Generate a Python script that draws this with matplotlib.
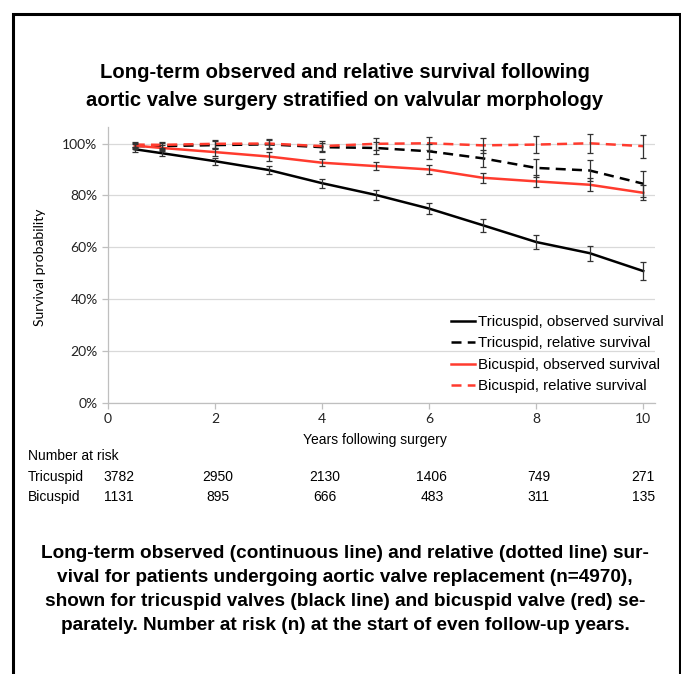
import numpy as np
import matplotlib
matplotlib.use("Agg")
import matplotlib.pyplot as plt
from matplotlib.patches import Rectangle
from matplotlib.ticker import PercentFormatter

# follow-up years and survival (%)
years = [0.5, 1, 2, 3, 4, 5, 6, 7, 8, 9, 10]
tri_obs = [97.8, 96.3, 93.2, 89.8, 84.7, 80.2, 74.9, 68.5, 62.0, 57.7, 50.8]
tri_obs_err = [1.0, 1.1, 1.3, 1.5, 1.7, 2.0, 2.2, 2.5, 2.6, 2.9, 3.6]
tri_rel = [99.0, 99.0, 99.4, 99.7, 98.6, 98.3, 97.0, 94.3, 90.6, 89.6, 84.5]
tri_rel_err = [1.0, 1.2, 1.5, 1.7, 1.8, 2.3, 2.8, 3.3, 3.6, 4.2, 5.0]
bi_obs = [99.2, 98.3, 96.7, 95.0, 92.6, 91.3, 90.0, 86.8, 85.4, 84.1, 81.0]
bi_obs_err = [1.0, 1.2, 1.4, 1.6, 1.4, 1.6, 1.8, 2.0, 2.3, 2.6, 2.9]
bi_rel = [99.6, 99.5, 99.9, 100.0, 99.0, 99.9, 100.1, 99.3, 99.6, 100.1, 99.0]
bi_rel_err = [1.0, 1.2, 1.5, 1.7, 2.0, 2.2, 2.6, 3.0, 3.4, 3.6, 4.4]

risk_years = [0, 2, 4, 6, 8, 10]
risk_tri = [3782, 2950, 2130, 1406, 749, 271]
risk_bi = [1131, 895, 666, 483, 311, 135]

RED = "#ff3b2e"
W, H = 681, 674

plt.rcParams['font.family'] = ['Liberation Sans', 'DejaVu Sans']

fig = plt.figure(figsize=(W / 100, H / 100), dpi=100)

def fx(px):
    return px / W

def fy(py):
    return 1 - py / H

# outer frame
fig.patches.append(Rectangle((fx(13), fy(700)), fx(680) - fx(13), fy(14) - fy(700),
                             transform=fig.transFigure, fill=False,
                             edgecolor="black", linewidth=2.2, clip_on=False))

fig.text(fx(345), fy(72), "Long-term observed and relative survival following",
         ha="center", va="center", fontsize=14.6, fontweight="bold")
fig.text(fx(345), fy(100), "aortic valve surgery stratified on valvular morphology",
         ha="center", va="center", fontsize=14.6, fontweight="bold")

ax_l, ax_r, ax_t, ax_b = 108, 655, 126.7, 402.7
ax = fig.add_axes([fx(ax_l), fy(ax_b), fx(ax_r) - fx(ax_l), fy(ax_t) - fy(ax_b)])

series = [
    (tri_obs, tri_obs_err, "black", "-", "Tricuspid, observed survival"),
    (tri_rel, tri_rel_err, "black", (0, (4, 2.5)), "Tricuspid, relative survival"),
    (bi_obs, bi_obs_err, RED, "-", "Bicuspid, observed survival"),
    (bi_rel, bi_rel_err, RED, (0, (4, 2.5)), "Bicuspid, relative survival"),
]
for vals, err, col, ls, lab in series:
    ax.plot(years, vals, color=col, linestyle=ls, linewidth=1.8, label=lab, zorder=3)
for vals, err, col, ls, lab in series:
    ax.errorbar(years, vals, yerr=err, fmt="none", ecolor="#333333",
                elinewidth=0.9, capsize=2.5, capthick=0.9, zorder=4)

ax.set_xlim(0, 10.22)
ax.set_ylim(0, 106.5)
ax.set_xticks(risk_years)
ax.set_yticks([0, 20, 40, 60, 80, 100])
ax.yaxis.set_major_formatter(PercentFormatter(decimals=0))
ax.grid(axis="y", color="#d9d9d9", linewidth=0.9)
ax.set_axisbelow(True)
for s in ["top", "right"]:
    ax.spines[s].set_visible(False)
for s in ["left", "bottom"]:
    ax.spines[s].set_color("#bfbfbf")
    ax.spines[s].set_linewidth(0.9)
ax.tick_params(axis="both", colors="#bfbfbf", length=4, width=0.9,
               labelcolor="#222222", labelsize=10)
for t in ax.get_xticklabels() + ax.get_yticklabels():
    t.set_fontfamily(["Lato", "DejaVu Sans"])

ax.set_ylabel("Survival probability", fontsize=10, fontfamily=["Lato", "DejaVu Sans"])
ax.yaxis.set_label_coords((46 - ax_l) / (ax_r - ax_l), 0.49)

leg = ax.legend(loc="lower right", bbox_to_anchor=(1.04, -0.015), frameon=False,
                fontsize=10.8, handlelength=1.6, handletextpad=0.15,
                labelspacing=0.5)

fig.text(fx(375), fy(440), "Years following surgery", ha="center", va="center",
         fontsize=10)

# number-at-risk table
fig.text(fx(28), fy(456), "Number at risk", ha="left", va="center", fontsize=10)
fig.text(fx(28), fy(477), "Tricuspid", ha="left", va="center", fontsize=10)
fig.text(fx(28), fy(497), "Bicuspid", ha="left", va="center", fontsize=10)
for i, yr in enumerate(risk_years):
    if i == 0:
        xpos, ha = yr - 0.08, "left"
    elif i == len(risk_years) - 1:
        xpos, ha = ax.get_xlim()[1], "right"
    else:
        xpos, ha = yr + 0.05, "center"
    for val, py in [(risk_tri[i], 477), (risk_bi[i], 497)]:
        ax.text(xpos, (ax_b - py) / (ax_b - ax_t), str(val), ha=ha, va="center",
                fontsize=10, transform=ax.get_xaxis_transform(), clip_on=False)

caption = ["Long-term observed (continuous line) and relative (dotted line) sur-",
           "vival for patients undergoing aortic valve replacement (n=4970),",
           "shown for tricuspid valves (black line) and bicuspid valve (red) se-",
           "parately. Number at risk (n) at the start of even follow-up years."]
for i, line in enumerate(caption):
    fig.text(fx(345), fy(553 + 24 * i), line, ha="center", va="center",
             fontsize=13.7, fontweight="bold")

fig.savefig("out.png", dpi=100)
